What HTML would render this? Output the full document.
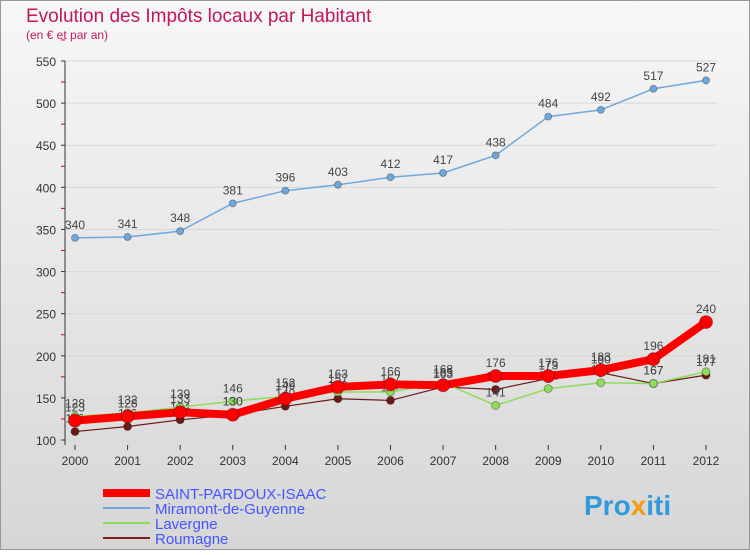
<!DOCTYPE html>
<html><head><meta charset="utf-8"><style>
body{margin:0;width:750px;height:550px;overflow:hidden;font-family:"Liberation Sans",sans-serif}
</style></head><body>
<svg width="750" height="550" xmlns="http://www.w3.org/2000/svg">
<defs><linearGradient id="bg" x1="0" y1="0" x2="0" y2="1"><stop offset="0" stop-color="#f7f7f7"/><stop offset="1" stop-color="#d6d6d6"/></linearGradient></defs>
<rect x="0.5" y="0.5" width="749" height="549" fill="url(#bg)" stroke="#999"/>
<text x="26" y="22" font-size="19" fill="#c2185b">Evolution des Impôts locaux par Habitant</text>
<text x="26" y="39" font-size="12" fill="#c2185b">(en € et par an)</text>
<g id="axes"></g><g id="series"></g>
<g>
<line x1="103" y1="493" x2="150" y2="493" stroke="#f00" stroke-width="8"/><text x="155" y="499" font-size="15" fill="#4455ff">SAINT-PARDOUX-ISAAC</text>
<line x1="103" y1="508" x2="150" y2="508" stroke="#6fa8dc" stroke-width="2"/><text x="155" y="514" font-size="15" fill="#4455ff">Miramont-de-Guyenne</text>
<line x1="103" y1="523" x2="150" y2="523" stroke="#8fdc5a" stroke-width="2"/><text x="155" y="529" font-size="15" fill="#4455ff">Lavergne</text>
<line x1="103" y1="538" x2="150" y2="538" stroke="#7a2020" stroke-width="2"/><text x="155" y="544" font-size="15" fill="#4455ff">Roumagne</text>
</g>
<text x="584" y="515" font-size="28" font-weight="bold" fill="#3399dd">Pro<tspan fill="#f39c12">x</tspan>iti</text>
</svg>
<script>
const years=[2000,2001,2002,2003,2004,2005,2006,2007,2008,2009,2010,2011,2012];
const yTicks=[100,150,200,250,300,350,400,450,500,550];
const saint=[123,128,133,130,149,163,166,165,176,176,183,196,240];
const miramont=[340,341,348,381,396,403,412,417,438,484,492,517,527];
const lavergne=[128,132,139,146,152,157,157,168,141,161,168,167,181];
const roumagne=[110,116,124,130,140,149,147,163,160,173,180,167,177];
const NS="http://www.w3.org/2000/svg";
const xs=i=>75+i*(706-75)/12;
const ys=v=>440-(v-100)*(440-61)/450;
function mk(t,a,p){const e=document.createElementNS(NS,t);for(const k in a)e.setAttribute(k,a[k]);p.appendChild(e);return e;}
const ax=document.getElementById('axes');
yTicks.forEach(v=>{
const g=mk('line',{x1:65,x2:718,y1:ys(v),y2:ys(v),stroke:'#d8d8d8'},ax);


const t=mk('text',{x:56,y:ys(v)+5,'text-anchor':'end','font-size':12,fill:'#333'},ax);t.textContent=v;


mk('line',{x1:61,x2:65,y1:ys(v),y2:ys(v),stroke:'#333'},ax);
mk('line',{x1:61,x2:65,y1:ys(v+25),y2:ys(v+25),stroke:'#d00'},ax);
});
mk('line',{x1:65,x2:65,y1:61,y2:445,stroke:'#333'},ax);
years.forEach((y,i)=>{
mk('line',{x1:xs(i),x2:xs(i),y1:445,y2:450,stroke:'#333'},ax);
const t=mk('text',{x:xs(i),y:465,'text-anchor':'middle','font-size':12,fill:'#333'},ax);t.textContent=y;


});
const sg=document.getElementById('series');
function series(d,col,w,r,name){
const g=mk('g',{},sg);


mk('polyline',{points:d.map((v,i)=>xs(i)+','+ys(v)).join(' '),fill:'none',stroke:col,'stroke-width':w,'stroke-linejoin':'round'},g);
d.forEach((v,i)=>{
const c=mk('circle',{cx:xs(i),cy:ys(v),r:r,fill:col,stroke:'rgba(0,0,0,0.3)'},g);


const t=mk('text',{x:xs(i),y:ys(v)-9,'text-anchor':'middle','font-size':12,fill:'#444'},g);t.textContent=v;


});
}
series(miramont,'#6fa8dc',1.5,3.5,'series-miramont');
series(roumagne,'#6b1a1a',1.2,4,'series-roumagne');
series(lavergne,'#8fdc5a',1.5,4,'series-lavergne');
series(saint,'#f00',8,6.5,'series-saint-pardoux');
</script>
</body></html>
